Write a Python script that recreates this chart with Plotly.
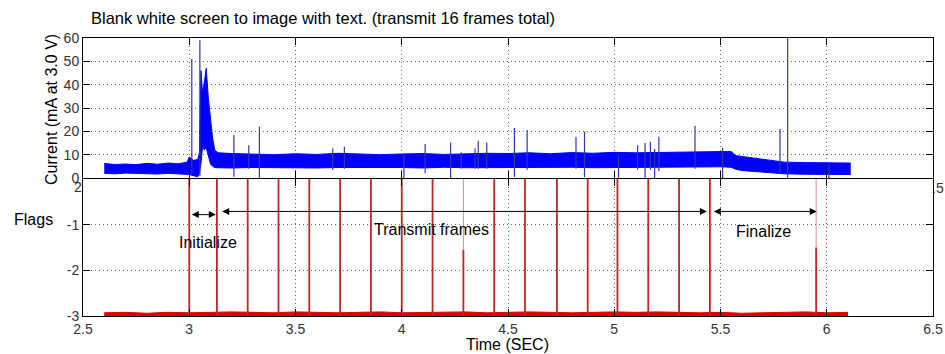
import plotly.graph_objects as go

# ---------------------------------------------------------------- data
TITLE = "Blank white screen to image with text. (transmit 16 frames total)"

# Current trace (mA): lower / upper edge of the noise band over time (s)
CUR_T = [2.600, 2.650, 2.700, 2.750, 2.800, 2.850, 2.900, 2.950, 2.990,
         3.000, 3.020, 3.040, 3.048, 3.055, 3.063, 3.070, 3.080, 3.090, 3.100, 3.110, 3.120, 3.135,
         3.200, 3.300, 3.400, 3.500, 3.600, 3.700, 3.800, 3.900, 4.000, 4.100, 4.200, 4.300,
         4.400, 4.500, 4.600, 4.700, 4.800, 4.900, 5.000, 5.100, 5.200, 5.300, 5.400, 5.500,
         5.550, 5.570, 5.600, 5.650, 5.700, 5.750, 5.800, 5.900, 6.000, 6.050, 6.113]
CUR_HI = [6.2, 5.8, 6.0, 5.7, 6.3, 5.9, 6.4, 6.1, 6.8,
          9.0, 7.5, 8.0, 11.0, 46.0, 36.0, 40.0, 47.0, 34.0, 25.0, 17.0, 12.0, 10.8,
          10.5, 10.2, 10.0, 10.4, 10.1, 10.6, 10.2, 10.0, 10.3, 10.5, 10.1, 10.4,
          10.6, 10.5, 10.8, 10.4, 10.9, 10.6, 11.0, 10.8, 11.0, 11.2, 11.3, 11.6,
          11.4, 9.6, 9.2, 8.5, 8.0, 7.4, 6.8, 6.6, 6.5, 6.6, 6.4]
CUR_LO = [2.0, 1.8, 2.1, 1.9, 2.0, 1.7, 2.0, 1.9, 1.8,
          1.5, 1.0, 0.5, 2.0, 6.0, 14.0, 12.0, 13.0, 9.0, 6.0, 5.0, 4.5, 4.4,
          4.3, 4.5, 4.4, 4.6, 4.3, 4.5, 4.6, 4.4, 4.5, 4.3, 4.6, 4.4,
          4.5, 4.6, 4.4, 4.5, 4.6, 4.4, 4.5, 4.6, 4.5, 4.7, 4.6, 4.8,
          4.6, 3.8, 3.2, 2.8, 2.4, 2.0, 1.8, 1.6, 1.5, 1.6, 1.5]

# Isolated current spikes: time, low and high excursion (mA)
SPIKE_T = [3.012, 3.050, 3.210, 3.280, 3.330, 3.675, 3.730, 4.010, 4.110, 4.230,
           4.280, 4.345, 4.360, 4.400, 4.530, 4.590, 4.820, 4.860, 5.020, 5.110,
           5.145, 5.170, 5.190, 5.210, 5.380, 5.510, 5.780, 5.816, 6.010]
SPIKE_LO = [1.5, 1.0, 0.5, 4.0, 0.0, 3.4, 4.0, 0.0, 2.0, 0.0,
            4.0, 4.0, 4.0, 4.0, 0.4, 3.5, 4.0, 0.4, 0.0, 3.5,
            0.0, 3.5, 0.0, 3.0, 4.0, 0.0, 2.0, 0.0, 0.0]
SPIKE_HI = [51.0, 59.0, 18.5, 14.0, 22.0, 12.8, 13.4, 10.0, 14.6, 15.2,
            11.0, 12.8, 16.0, 15.2, 21.4, 20.6, 17.6, 19.9, 10.0, 14.0,
            15.0, 15.5, 12.4, 17.7, 22.3, 13.0, 21.0, 65.0, 6.0]

# Flag channel: idle level and its small noise ceiling
FLAG_BASE = -3.0
RED_T = [2.60, 2.70, 2.80, 2.90, 3.00, 3.10, 3.20, 3.30, 3.40, 3.50,
         3.60, 3.70, 3.80, 3.90, 4.00, 4.10, 4.20, 4.30, 4.40, 4.50,
         4.60, 4.70, 4.80, 4.90, 5.00, 5.10, 5.20, 5.30, 5.40, 5.50,
         5.60, 5.70, 5.80, 5.90, 6.00, 6.10]
RED_HI = [-2.93, -2.92, -2.94, -2.92, -2.93, -2.92, -2.91, -2.92, -2.93, -2.91,
          -2.92, -2.93, -2.92, -2.91, -2.93, -2.92, -2.92, -2.91, -2.93, -2.92,
          -2.91, -2.92, -2.93, -2.92, -2.91, -2.92, -2.91, -2.92, -2.93, -2.92,
          -2.94, -2.93, -2.92, -2.91, -2.93, -2.92]

# Flag pulses (s) and their peak level (values above 0 run off the axis)
FLAG_T = [3.000, 3.130, 3.275, 3.420, 3.565, 3.710, 3.855, 4.000, 4.145, 4.290,
          4.435, 4.580, 4.730, 4.875, 5.015, 5.160, 5.305, 5.450, 5.950]
FLAG_TOP = [1.0, 1.0, 1.0, 1.0, 1.0, 1.0, 1.0, 1.0, 1.0, -1.55,
            1.0, 1.0, 1.0, 1.0, 1.0, 1.0, 1.0, 1.0, -1.50]

# Phase spans (s) and labels
PHASES = [
    ("Initialize", 3.005, 3.125, -0.78, 3.09, -1.40),
    ("Transmit frames", 3.148, 5.436, -0.71, 4.14, -1.10),
    ("Finalize", 5.462, 5.953, -0.71, 5.70, -1.16),
]

X_TICKS = [2.5, 3, 3.5, 4, 4.5, 5, 5.5, 6, 6.5]
CUR_TICKS = [0, 10, 20, 30, 40, 50, 60]
FLAG_TICKS = [-3, -2, -1]
FLAG_TICK_TEXT = ["-3", "-2", "-1"]

# ---------------------------------------------------------------- layout
W, H = 945, 354
FONT = "Liberation Sans, Arial, sans-serif"


def px(x, y):
    return x / W, 1 - y / H


def segments(xs, y0s, y1s):
    sx, sy = [], []
    for x, a, b in zip(xs, y0s, y1s):
        sx += [x, x, None]
        sy += [a, b, None]
    return sx, sy


fig = go.Figure()

# current band
fig.add_trace(go.Scatter(x=CUR_T, y=CUR_LO, mode="lines",
                         line=dict(color="#0000ff", width=1),
                         xaxis="x", yaxis="y", hoverinfo="skip"))
fig.add_trace(go.Scatter(x=CUR_T, y=CUR_HI, mode="lines", fill="tonexty",
                         fillcolor="#0000ff", line=dict(color="#0000ff", width=1),
                         xaxis="x", yaxis="y", hoverinfo="skip"))
sx, sy = segments(SPIKE_T, SPIKE_LO, SPIKE_HI)
fig.add_trace(go.Scatter(x=sx, y=sy, mode="lines",
                         line=dict(color="#3535a8", width=1.2),
                         xaxis="x", yaxis="y", hoverinfo="skip"))

# flag channel
fig.add_trace(go.Scatter(x=[RED_T[0], RED_T[-1]], y=[FLAG_BASE, FLAG_BASE], mode="lines",
                         line=dict(color="#e00000", width=1),
                         xaxis="x2", yaxis="y2", hoverinfo="skip"))
fig.add_trace(go.Scatter(x=RED_T, y=RED_HI, mode="lines", fill="tonexty",
                         fillcolor="#e00000", line=dict(color="#e00000", width=1),
                         xaxis="x2", yaxis="y2", hoverinfo="skip"))
# faint continuation of the short pulses
short = [(t, v) for t, v in zip(FLAG_T, FLAG_TOP) if v < 0]
fx, fy = segments([t for t, _ in short], [v for _, v in short], [1.0] * len(short))
fig.add_trace(go.Scatter(x=fx, y=fy, mode="lines",
                         line=dict(color="#d89090", width=1),
                         xaxis="x2", yaxis="y2", hoverinfo="skip"))
fx, fy = segments(FLAG_T, [FLAG_BASE] * len(FLAG_T), FLAG_TOP)
fig.add_trace(go.Scatter(x=fx, y=fy, mode="lines",
                         line=dict(color="#c42424", width=1.8),
                         xaxis="x2", yaxis="y2", hoverinfo="skip"))

annotations = []
for label, x0, x1, ya, tx, ty in PHASES:
    annotations.append(dict(
        x=x1, y=ya, ax=x0, ay=ya, xref="x2", yref="y2", axref="x2", ayref="y2",
        text="", showarrow=True, arrowhead=2, arrowside="end+start",
        arrowsize=1.4, arrowwidth=1, arrowcolor="#000000",
        standoff=0, startstandoff=0))
    annotations.append(dict(
        x=tx, y=ty, xref="x2", yref="y2", text=label, showarrow=False,
        font=dict(family=FONT, size=16, color="#000000")))

# title and axis labels
x, y = px(89, 18)
annotations.append(dict(x=x, y=y, xref="paper", yref="paper", text=TITLE,
                        showarrow=False, xanchor="left", yanchor="middle",
                        font=dict(family=FONT, size=16.5, color="#000000")))
x, y = px(51, 110)
annotations.append(dict(x=x, y=y, xref="paper", yref="paper",
                        text="Current (mA at 3.0 V)", textangle=-90, showarrow=False,
                        xanchor="center", yanchor="middle",
                        font=dict(family=FONT, size=16, color="#000000")))
x, y = px(33, 219)
annotations.append(dict(x=x, y=y, xref="paper", yref="paper", text="Flags",
                        showarrow=False, xanchor="center", yanchor="middle",
                        font=dict(family=FONT, size=16, color="#000000")))
x, y = px(507, 344)
annotations.append(dict(x=x, y=y, xref="paper", yref="paper", text="Time (SEC)",
                        showarrow=False, xanchor="center", yanchor="middle",
                        font=dict(family=FONT, size=16, color="#000000")))
x, y = px(78, 187)
annotations.append(dict(x=x, y=y, xref="paper", yref="paper", text="2",
                        showarrow=False, xanchor="center", yanchor="middle",
                        font=dict(family=FONT, size=14, color="#333333")))
x, y = px(938, 188)
annotations.append(dict(x=x, y=y, xref="paper", yref="paper", text=".5",
                        showarrow=False, xanchor="center", yanchor="middle",
                        font=dict(family=FONT, size=14, color="#333333")))

xd = [83 / W, 933 / W]
axis_common = dict(
    automargin=False,
    showline=True, linecolor="#000000", linewidth=1, mirror="ticks",
    ticks="inside", ticklen=7, tickcolor="#000000", tickwidth=1,
    showgrid=True, gridcolor="#6a6a6a", gridwidth=1, griddash="1px,3px",
    zeroline=False, tickfont=dict(family=FONT, size=14, color="#333333"),
)

fig.update_layout(
    width=W, height=H, margin=dict(l=0, r=0, t=0, b=0, autoexpand=False),
    paper_bgcolor="#ffffff", plot_bgcolor="#ffffff", showlegend=False,
    annotations=annotations,
    xaxis=dict(domain=xd, anchor="y", range=[2.5, 6.5], tickvals=X_TICKS,
               showticklabels=False, **axis_common),
    yaxis=dict(domain=[1 - 178 / H, 1 - 38 / H], anchor="x", range=[0, 60],
               tickvals=CUR_TICKS, **axis_common),
    xaxis2=dict(domain=xd, anchor="y2", range=[2.5, 6.5], tickvals=X_TICKS,
                ticktext=[f"{v:g}" for v in X_TICKS], **axis_common),
    yaxis2=dict(domain=[1 - 316 / H, 1 - 179 / H], anchor="x2", range=[-3, 0],
                tickvals=FLAG_TICKS, ticktext=FLAG_TICK_TEXT, **axis_common),
)

fig.write_html("out.html")
